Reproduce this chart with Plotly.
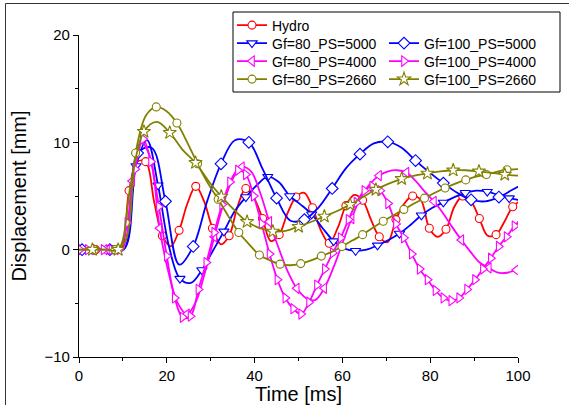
import numpy as np
import plotly.graph_objects as go

# ---------------- data ----------------
# Hydro (red, circles): samples every 1.9 ms from t = 0
hydro_t0, hydro_dt = 0.0, 1.9
hydro_v = [0, 0, 0, 0, 0, 0, 5.5, 8.2, 8.2, 4.5, 1.3, 0.3, 1.8, 4.3, 5.9, 4.5, 2.0, 0.5,
           1.3, 4.0, 5.7, 4.8, 2.9, 0.8, 1.4, 3.4, 4.9, 5.3, 3.9, 1.8, 0.6, 2.0, 4.1, 5.1,
           4.6, 2.8, 1.2, 0.7, 2.8, 4.3, 5.0, 4.6, 2.0, 1.2, 1.9, 4.0, 5.0, 4.5, 2.9, 1.3,
           1.4, 2.6, 4.0, 4.6]

# Gf=80_PS=5000 (blue, down triangles)
g80_5000_t0, g80_5000_dt = 0.5, 2.5
g80_5000_v = [0, 0, 0, 0, 0.2, 7.8, 10.2, 6.0, 0.3, -2.7, -3.1, -1.9, -0.1, 1.7, 3.6, 4.9,
              6.0, 6.8, 6.3, 5.0, 4.2, 3.3, 2.0, 0.8, 0.1, -0.1, 0.0, 0.4, 0.9, 1.5, 2.3, 3.2,
              3.9, 4.4, 4.9, 5.3, 5.5, 5.4, 5.1, 4.8, 4.6]

# Gf=100_PS=5000 (blue, diamonds)
g100_5000_t0, g100_5000_dt = -2.465, 3.165
g100_5000_v = [0, 0, 0, 0, 0.0, 9.0, 9.5, 4.5, -1.4, 0.3, 4.5, 8.0, 10.2, 10.0, 7.5, 4.8,
               2.7, 2.8, 3.9, 5.7, 7.6, 8.9, 9.9, 10.05, 9.5, 8.3, 7.2, 6.2, 5.3, 4.65, 4.5,
               4.9, 5.6, 6.3]

# Gf=80_PS=4000 (magenta, left triangles)
g80_4000_t0, g80_4000_dt = -0.4, 2.0833
g80_4000_v = [0, 0, 0, 0, 0, 0.2, 6.4, 10.0, 8.5, 2.0, -2.2, -5.0, -6.0, -4.8, -2.0, 1.2,
              4.3, 6.6, 7.7, 7.3, 5.3, 2.6, 0.2, -2.0, -3.6, -4.5, -4.7, -3.6, -1.7, 0.6,
              2.9, 4.9, 6.1, 6.9, 7.3, 7.4, 7.2, 6.4, 5.4, 4.5, 3.4, 2.1, 0.9, -0.2, -1.2,
              -1.7, -2.15, -2.15, -1.9, -1.75]

# Gf=100_PS=4000 (magenta, right triangles)
g100_4000_t0, g100_4000_dt = 0.2, 1.8
g100_4000_v = [0, 0, 0, 0, 0, 0, 2.5, 7.5, 10.3, 8.2, 4.0, -0.6, -4.5, -6.3, -6.2, -3.7,
               -1.2, 1.6, 4.2, 6.3, 7.4, 7.0, 5.0, 2.4, -0.4, -2.8, -4.5, -5.5, -6.0, -4.9,
               -3.3, -1.8, -0.3, 1.1, 2.8, 4.4, 5.5, 5.9, 5.5, 4.3, 2.4, 1.1, -0.4, -1.8,
               -2.8, -3.8, -4.5, -4.75, -4.5, -3.7, -2.8, -1.8, -0.8, 0.3, 1.2, 2.2, 3.0]

# Gf=80_PS=2660 (olive, circles)
g80_2660_t0, g80_2660_dt = -1.2, 2.35
g80_2660_v = [0, 0, 0, 0, 0, 0.8, 9.0, 12.5, 13.3, 12.9, 11.8, 10.0, 8.0, 6.2, 4.7, 3.1,
              1.6, 0.5, -0.5, -1.0, -1.35, -1.45, -1.3, -1.0, -0.6, -0.2, 0.3, 0.85, 1.4,
              2.05, 2.65, 3.2, 3.75, 4.3, 4.8, 5.3, 5.75, 6.15, 6.5, 6.8, 7.0, 7.25, 7.45,
              7.5, 7.55]

# Gf=100_PS=2660 (olive, stars)
g100_2660_t0, g100_2660_dt = -2.81, 2.935
g100_2660_v = [0, 0, 0, 0, 0, 6.3, 11.0, 11.9, 10.9, 9.3, 8.1, 6.4, 4.96, 3.7, 2.6, 2.0,
               1.7, 1.75, 2.15, 2.6, 3.1, 3.6, 4.2, 4.9, 5.6, 6.15, 6.6, 6.9, 7.1, 7.3, 7.4,
               7.4, 7.3, 7.15, 7.0, 6.9, 6.85]

x_ticks = [0, 20, 40, 60, 80, 100]
y_ticks = [-10, 0, 10, 20]

RED, BLUE, MAG, OLIVE = "#FF0000", "#0000FF", "#FF00FF", "#808000"

series = [
    # name, color, symbol, size, t0, dt, values, marker start, marker step, legend, row
    ("Hydro", RED, "circle", 8, hydro_t0, hydro_dt, hydro_v, 0, 2, "legend", 0),
    ("Gf=80_PS=5000", BLUE, "triangle-down", 9, g80_5000_t0, g80_5000_dt, g80_5000_v, 1, 2, "legend2", 1),
    ("Gf=100_PS=5000", BLUE, "diamond", 9, g100_5000_t0, g100_5000_dt, g100_5000_v, 1, 2, "legend3", 1),
    ("Gf=80_PS=4000", MAG, "triangle-left", 9, g80_4000_t0, g80_4000_dt, g80_4000_v, 0, 3, "legend4", 2),
    ("Gf=100_PS=4000", MAG, "triangle-right", 9, g100_4000_t0, g100_4000_dt, g100_4000_v, 0, 1, "legend5", 2),
    ("Gf=80_PS=2660", OLIVE, "circle", 8, g80_2660_t0, g80_2660_dt, g80_2660_v, 0, 2, "legend6", 3),
    ("Gf=100_PS=2660", OLIVE, "star", 10, g100_2660_t0, g100_2660_dt, g100_2660_v, 0, 2, "legend7", 3),
]

fig = go.Figure()
for name, col, sym, size, t0, dt, vals, ms, mstep, leg, row in series:
    v = np.array(vals, dtype=float)
    t = t0 + dt * np.arange(len(v))
    mk = dict(symbol=sym, size=size, color="white", line=dict(color=col, width=1.1))
    fig.add_trace(go.Scatter(x=t, y=v, mode="lines", line=dict(color=col, width=1.8, shape="spline"),
                             showlegend=False, hoverinfo="skip"))
    fig.add_trace(go.Scatter(x=t[ms::mstep], y=v[ms::mstep], mode="markers", marker=mk,
                             showlegend=False, hoverinfo="skip"))
    fig.add_trace(go.Scatter(x=[None], y=[None], mode="lines+markers", name=name,
                             line=dict(color=col, width=1.8), marker=mk, legend=leg))

# plot area geometry in pixels
L, R, T, B = 79, 51, 35, 48
W, H = 569, 405
pw, ph = W - L - R, H - T - B

def px2x(px):
    return (px - L) / pw

def px2y(py):
    return (H - B - py) / ph

row_y = [25.5, 43.5, 61.5, 79.5]
col_x = [232, 384]
font_leg = dict(family="Liberation Sans, Arial", size=14, color="black")
layout_legends = {}
for name, col, sym, size, t0, dt, vals, ms, mstep, leg, row in series:
    c = 0 if (name == "Hydro" or name.startswith("Gf=80")) else 1
    layout_legends[leg] = dict(x=px2x(col_x[c]), y=px2y(row_y[row]), xanchor="left",
                               yanchor="middle", bgcolor="rgba(0,0,0,0)", borderwidth=0,
                               font=font_leg)

fig.update_layout(
    width=W, height=H,
    margin=dict(l=L, r=R, t=T, b=B, autoexpand=False),
    paper_bgcolor="white", plot_bgcolor="white",
    font=dict(family="Liberation Sans, Arial", color="black"),
    **layout_legends,
    shapes=[
        dict(type="rect", xref="paper", yref="paper", x0=px2x(233), x1=px2x(560),
             y0=px2y(92), y1=px2y(12), line=dict(color="black", width=1)),
        dict(type="line", xref="paper", yref="paper", x0=px2x(5.5), x1=px2x(569),
             y0=px2y(3.5), y1=px2y(3.5), line=dict(color="#333333", width=1)),
        dict(type="line", xref="paper", yref="paper", x0=px2x(5.5), x1=px2x(5.5),
             y0=px2y(3.5), y1=px2y(405), line=dict(color="#333333", width=1)),
    ],
)
fig.update_xaxes(range=[0, 100], tickvals=x_ticks, showline=True, linecolor="black", linewidth=1.3,
                 ticks="outside", ticklen=5, tickwidth=1.3, tickcolor="black",
                 minor=dict(ticks="outside", ticklen=3, tickwidth=1.3, tickcolor="black", dtick=10),
                 showgrid=False, zeroline=False, tickfont=dict(size=15), automargin=False,
                 title=dict(text="Time [ms]", font=dict(size=20), standoff=0))
fig.update_yaxes(range=[-10, 20], tickvals=y_ticks, showline=True, linecolor="black", linewidth=1.3,
                 ticks="outside", ticklen=5, tickwidth=1.3, tickcolor="black",
                 minor=dict(ticks="outside", ticklen=3, tickwidth=1.3, tickcolor="black", dtick=5),
                 showgrid=False, zeroline=False, tickfont=dict(size=15), automargin=False,
                 title=dict(text="Displacement [mm]", font=dict(size=20), standoff=12))

fig.write_html("out.html", config={"displayModeBar": False},
               post_script="document.body.style.margin='0px';document.body.style.overflow='hidden';")
